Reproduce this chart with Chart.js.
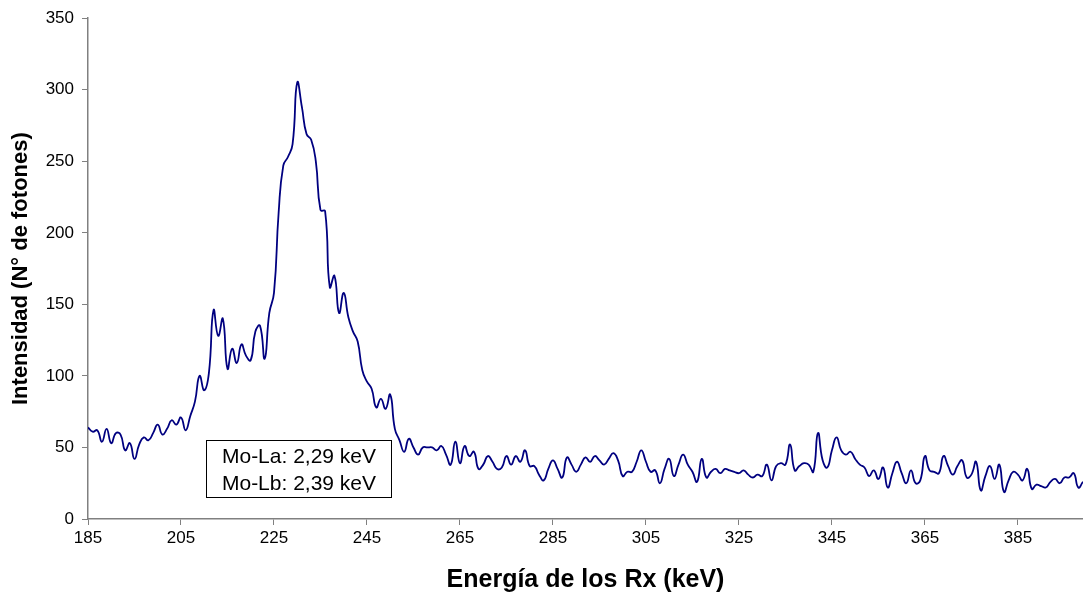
<!DOCTYPE html>
<html>
<head>
<meta charset="utf-8">
<script src="https://cdn.jsdelivr.net/npm/chart.js@4"></script>
<style>
html,body{margin:0;padding:0;background:#fff;}
#wrap{width:1083px;height:601px;}
</style>
</head>
<body>
<div id="wrap"><canvas id="c" width="1083" height="601"></canvas></div>
<script>
// Energies (keV channel labels) 185..399
const energies = [];
for (let e = 185; e <= 399; e++) energies.push(e);

// Counts (one per energy)
const counts = [
 64,61,62,54,63,53,60,59,48,53, // 185-194
 42,52,57,55,60,66,59,63,69,66, // 195-204
 71,62,72,82,100,90,102,146,128,140, // 205-214
 105,119,109,122,114,111,131,135,112,144, // 215-224
 158,214,247,253,262,305,288,269,265,250, // 225-234
 216,215,162,170,144,158,141,131,124,104, // 235-244
 96,91,78,84,77,87,63,55,47,56, // 245-254
 50,45,50,50,50,48,51,45,38,54, // 255-264
 39,51,44,47,35,38,44,40,35,36, // 265-274
 44,38,44,40,48,37,37,31,27,35, // 275-284
 41,35,29,43,38,33,38,43,40,44, // 285-294
 41,38,42,46,41,30,33,33,40,48, // 295-304
 40,33,34,25,35,42,30,38,45,38, // 305-314
 33,26,42,29,33,35,32,35,34,33, // 315-324
 32,34,31,29,31,30,38,27,37,39, // 325-334
 38,52,34,37,39,38,33,60,41,36, // 335-344
 48,57,48,45,47,42,38,36,30,34, // 345-354
 28,36,22,32,40,32,25,34,25,27, // 355-364
 44,34,33,32,44,37,31,37,41,29, // 365-374
 31,40,20,30,37,28,38,19,27,33, // 375-384
 31,27,35,21,24,23,22,26,28,25, // 385-394
 29,29,32,22,26                 // 395-399
];

const xTicks = [185,205,225,245,265,285,305,325,345,365,385];
const yTicks = [0,50,100,150,200,250,300,350];
const noteLines = ['Mo-La: 2,29 keV', 'Mo-Lb: 2,39 keV'];

const FONT = "'Liberation Sans', Arial, sans-serif";

const notePlugin = {
  id: 'note',
  afterDatasetsDraw(chart) {
    const ctx = chart.ctx;
    ctx.save();
    const x = 206.5, y = 440.5, w = 185, h = 57;
    ctx.fillStyle = '#fff';
    ctx.fillRect(x, y, w, h);
    ctx.strokeStyle = '#000';
    ctx.lineWidth = 1;
    ctx.strokeRect(x, y, w, h);
    ctx.fillStyle = '#000';
    ctx.font = '21px ' + FONT;
    ctx.textAlign = 'center';
    ctx.textBaseline = 'middle';
    ctx.fillText(noteLines[0], x + w / 2, 457);
    ctx.fillText(noteLines[1], x + w / 2, 484);
    ctx.restore();
  }
};

new Chart(document.getElementById('c'), {
  type: 'line',
  data: {
    datasets: [{
      data: energies.map((e, i) => ({x: e, y: counts[i]})),
      borderColor: '#000080',
      borderWidth: 1.8,
      pointRadius: 0,
      tension: 0.5,
      fill: false
    }]
  },
  options: {
    responsive: false,
    animation: false,
    layout: {padding: {top: 18, right: 0, left: 0, bottom: 0}},
    plugins: {legend: {display: false}, tooltip: {enabled: false}},
    scales: {
      x: {
        type: 'linear',
        min: 185, max: 399,
        afterBuildTicks: s => { s.ticks = xTicks.map(v => ({value: v})); },
        afterFit: s => { s.height = 82; },
        grid: {drawOnChartArea: false, drawTicks: true, tickLength: 6, color: '#808080', lineWidth: 1},
        border: {color: '#808080', width: 1.5},
        ticks: {color: '#000', font: {family: FONT, size: 17}, padding: 3, maxRotation: 0, autoSkip: false},
        title: {display: true, text: 'Energía de los Rx (keV)', color: '#000',
                font: {family: FONT, size: 25, weight: 'bold'}, padding: {top: 0, bottom: 6}}
      },
      y: {
        min: 0, max: 350,
        afterBuildTicks: s => { s.ticks = yTicks.map(v => ({value: v})); },
        afterFit: s => { s.width = 88; },
        grid: {drawOnChartArea: false, drawTicks: true, tickLength: 6, color: '#808080', lineWidth: 1},
        border: {color: '#808080', width: 1.5},
        ticks: {color: '#000', font: {family: FONT, size: 17}, padding: 8},
        title: {display: true, text: 'Intensidad (N° de fotones)', color: '#000',
                font: {family: FONT, size: 22, weight: 'bold'}, padding: {top: 8, bottom: 0}}
      }
    }
  },
  plugins: [notePlugin]
});
</script>
</body>
</html>
